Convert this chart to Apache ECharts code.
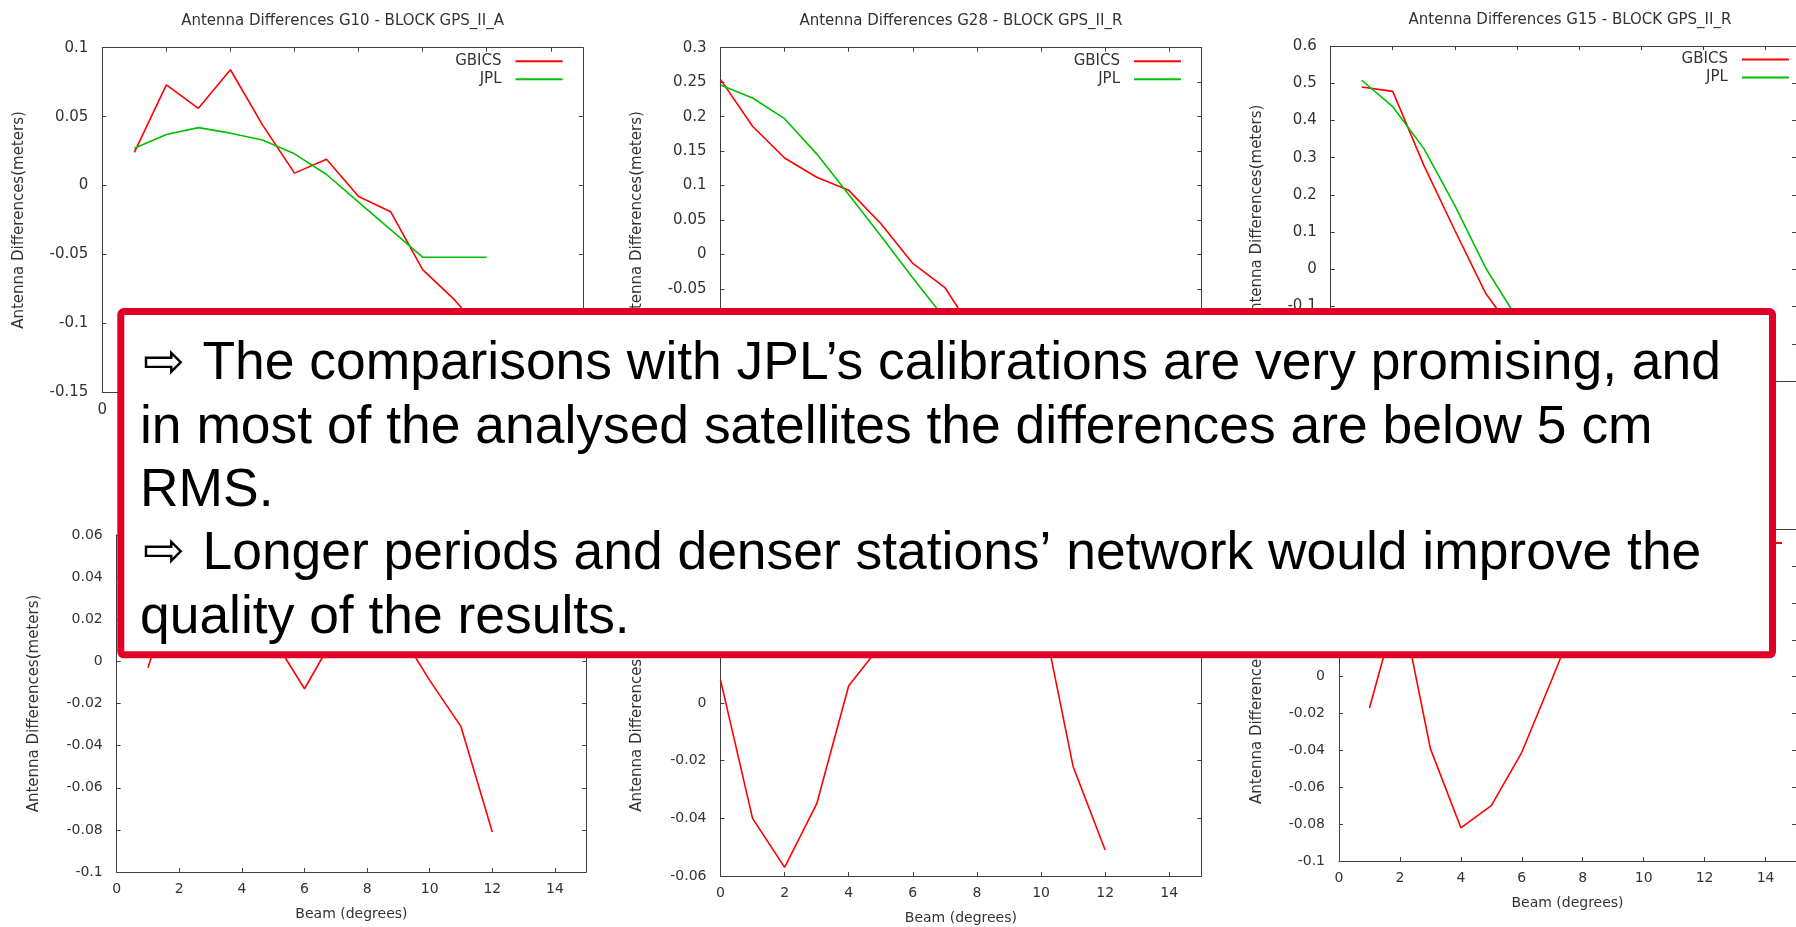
<!DOCTYPE html>
<html>
<head>
<meta charset="utf-8">
<script src="https://cdn.jsdelivr.net/npm/echarts@6/dist/echarts.min.js"></script>
<style>
  html, body { margin: 0; padding: 0; background: #fff; }
  #chart { width: 1796px; height: 927px; }
</style>
</head>
<body>
<div id="chart"></div>
<script>
// Antenna differences (meters) against beam angle (degrees), GBICS solution vs JPL calibration
const g10Beam  = [1, 2, 3, 4, 5, 6, 7, 8, 9, 10, 11, 12];
const g10Gbics = [0.024, 0.073, 0.056, 0.084, 0.044, 0.009, 0.019, -0.008, -0.019, -0.061, -0.083, -0.110];
const g10Jpl   = [0.027, 0.037, 0.042, 0.038, 0.033, 0.023, 0.008, -0.012, -0.032, -0.052, -0.052, -0.052];

const g28Beam  = [0, 1, 2, 3, 4, 5, 6, 7, 8, 9, 10, 11, 12];
const g28Gbics = [0.254, 0.186, 0.140, 0.112, 0.093, 0.045, -0.013, -0.048, -0.120, -0.140, -0.155, -0.165, -0.170];
const g28Jpl   = [0.246, 0.227, 0.197, 0.146, 0.087, 0.027, -0.034, -0.093, -0.140, -0.170, -0.185, -0.190, -0.190];

const g15Beam  = [1, 2, 3, 4, 5, 6, 7, 8, 9, 10, 11, 12];
const g15Gbics = [0.490, 0.478, 0.280, 0.105, -0.065, -0.180, -0.230, -0.250, -0.250, -0.240, -0.220, -0.200];
const g15Jpl   = [0.508, 0.437, 0.325, 0.172, 0.003, -0.130, -0.200, -0.230, -0.240, -0.240, -0.240, -0.240];

const lowerLeftBeam    = [1, 2, 3, 4, 5, 6, 7, 8, 9, 10, 11, 12];
const lowerLeftGbics   = [-0.003, 0.045, 0.050, 0.030, 0.011, -0.013, 0.013, 0.030, 0.015, -0.009, -0.031, -0.081];
const lowerMiddleBeam  = [0, 1, 2, 3, 4, 5, 6, 7, 8, 9, 10, 11, 12];
const lowerMiddleGbics = [0.008, -0.040, -0.057, -0.035, 0.006, 0.020, 0.035, 0.045, 0.050, 0.045, 0.033, -0.022, -0.051];
const lowerRightBeam   = [1, 2, 3, 4, 5, 6, 7, 8, 9, 10, 11, 12];
const lowerRightGbics  = [-0.017, 0.043, -0.039, -0.082, -0.070, -0.041, -0.001, 0.040, 0.050, 0.045, 0.035, 0.025];

// Axis ranges: [min, max, interval]
const beamRange = [0, 15, 2];
const yRanges = [
  [-0.15, 0.1, 0.05],
  [-0.2, 0.3, 0.05],
  [-0.3, 0.6, 0.1],
  [-0.1, 0.06, 0.02],
  [-0.06, 0.06, 0.02],
  [-0.1, 0.08, 0.02]
];

const titles = [
  'Antenna Differences G10 - BLOCK GPS_II_A',
  'Antenna Differences G28 - BLOCK GPS_II_R',
  'Antenna Differences G15 - BLOCK GPS_II_R'
];

const yAxisName = 'Antenna Differences(meters)';
const xAxisName = 'Beam (degrees)';

const noteLines = [
  ['⇨', 'The comparisons with JPL’s calibrations are very promising, and'],
  ['', 'in most of the analysed satellites the differences are below 5 cm'],
  ['', 'RMS.'],
  ['⇨', 'Longer periods and denser stations’ network would improve the'],
  ['', 'quality of the results.']
];

const RED = '#ff0000';
const GREEN = '#00c000';
const AXIS = '#404040';
const TEXT = '#333333';
const PLOT_FONT = '"DejaVu Sans", Verdana, sans-serif';

const panels = [
  { grid: { left: 102.3, top: 47.7, width: 480.5, height: 344.6 }, font: 15, yNameGap: 76,
    lines: [{ name: 'GBICS', beam: g10Beam, vals: g10Gbics, color: RED }, { name: 'JPL', beam: g10Beam, vals: g10Jpl, color: GREEN }] },
  { grid: { left: 720.5, top: 47.7, width: 480.8, height: 344.6 }, font: 15, yNameGap: 76,
    lines: [{ name: 'GBICS', beam: g28Beam, vals: g28Gbics, color: RED }, { name: 'JPL', beam: g28Beam, vals: g28Jpl, color: GREEN }] },
  { grid: { left: 1330.7, top: 46, width: 478.5, height: 335 }, font: 15, yNameGap: 66,
    lines: [{ name: 'GBICS', beam: g15Beam, vals: g15Gbics, color: RED }, { name: 'JPL', beam: g15Beam, vals: g15Jpl, color: GREEN }] },
  { grid: { left: 116.7, top: 535, width: 469.5, height: 337 }, font: 14, yNameGap: 75,
    lines: [{ name: 'GBICS', beam: lowerLeftBeam, vals: lowerLeftGbics, color: RED }] },
  { grid: { left: 720.5, top: 530, width: 480.8, height: 346 }, font: 14, yNameGap: 76,
    lines: [{ name: 'GBICS', beam: lowerMiddleBeam, vals: lowerMiddleGbics, color: RED }] },
  { grid: { left: 1339, top: 529.3, width: 463.3, height: 331.7 }, font: 14, yNameGap: 74,
    lines: [{ name: 'GBICS', beam: lowerRightBeam, vals: lowerRightGbics, color: RED }] }
];

const chartWidth = 1796;
const grid = [], xAxis = [], yAxis = [], series = [], legend = [], graphics = [];

panels.forEach((p, i) => {
  const [yMin, yMax, yStep] = yRanges[i];
  grid.push(Object.assign({ show: false, containLabel: false }, p.grid));

  const lineStyle = { color: AXIS, width: 1 };
  const tick = { show: true, inside: true, length: 4, lineStyle: lineStyle };
  const label = { fontSize: p.font, color: TEXT, fontFamily: PLOT_FONT };

  // bottom and mirrored top x axes
  xAxis.push({
    type: 'value', gridIndex: i, position: 'bottom',
    min: beamRange[0], max: beamRange[1], interval: beamRange[2],
    axisLine: { show: true, onZero: false, lineStyle: lineStyle },
    axisTick: tick, splitLine: { show: false },
    axisLabel: Object.assign({ margin: 10, showMaxLabel: false }, label),
    name: xAxisName, nameLocation: 'middle', nameGap: 35,
    nameTextStyle: { fontSize: p.font, color: TEXT, fontFamily: PLOT_FONT }
  });
  xAxis.push({
    type: 'value', gridIndex: i, position: 'top',
    min: beamRange[0], max: beamRange[1], interval: beamRange[2],
    axisLine: { show: true, onZero: false, lineStyle: lineStyle },
    axisTick: tick, splitLine: { show: false }, axisLabel: { show: false }
  });

  // left and mirrored right y axes
  yAxis.push({
    type: 'value', gridIndex: i, position: 'left',
    min: yMin, max: yMax, interval: yStep,
    axisLine: { show: true, onZero: false, lineStyle: lineStyle },
    axisTick: tick, splitLine: { show: false },
    axisLabel: Object.assign({ margin: 14 }, label),
    name: yAxisName, nameLocation: 'middle', nameGap: p.yNameGap,
    nameTextStyle: { fontSize: 15, color: TEXT, fontFamily: PLOT_FONT }
  });
  yAxis.push({
    type: 'value', gridIndex: i, position: 'right',
    min: yMin, max: yMax, interval: yStep,
    axisLine: { show: true, onZero: false, lineStyle: lineStyle },
    axisTick: tick, splitLine: { show: false }, axisLabel: { show: false }
  });

  p.lines.forEach(l => {
    series.push({
      type: 'line', name: l.name,
      xAxisIndex: 2 * i, yAxisIndex: 2 * i,
      data: l.beam.map((b, k) => [b, l.vals[k]]),
      symbol: 'none', showSymbol: false, clip: true,
      lineStyle: { color: l.color, width: 1.6 },
      itemStyle: { color: l.color },
      silent: true, animation: false
    });
  });

  // key in the upper right corner: label on the left, short line sample on the right
  const plotRight = p.grid.left + p.grid.width;
  legend.push({
    orient: 'vertical', align: 'right',
    right: chartWidth - (plotRight - 20.3),
    top: p.grid.top + 11.6 - 6,
    icon: 'rect', itemWidth: 47, itemHeight: 2, itemGap: 2, padding: 0,
    selectedMode: false,
    data: p.lines.map(l => l.name),
    textStyle: { fontSize: p.font, lineHeight: 16, color: TEXT, fontFamily: PLOT_FONT, padding: [0, 9, 0, 0] }
  });

  if (titles[i]) {
    graphics.push({
      type: 'text', x: p.grid.left + p.grid.width / 2, y: p.grid.top - 26.2, z: 10,
      style: { text: titles[i], align: 'center', verticalAlign: 'middle',
               fontSize: 15, fontFamily: PLOT_FONT, fill: TEXT }
    });
  }
});

// Summary note box laid over the plots
graphics.push({
  type: 'rect', z: 100,
  shape: { x: 120.8, y: 311.5, width: 1651.7, height: 343.3, r: 3 },
  style: { fill: '#ffffff', stroke: '#e00026', lineWidth: 7 }
});
const noteTop = 364.6, noteStep = 63.3;
noteLines.forEach((ln, k) => {
  const y = noteTop + k * noteStep;
  if (ln[0]) {
    graphics.push({
      type: 'text', z: 101, x: 143, y: y,
      style: { text: ln[0], fontSize: 50, fontFamily: '"DejaVu Sans", sans-serif',
               fill: '#000', verticalAlign: 'middle', align: 'left' }
    });
  }
  graphics.push({
    type: 'text', z: 101, x: ln[0] ? 202.5 : 140, y: y,
    style: { text: ln[1], fontSize: 53.4, fontFamily: '"Liberation Sans", Arial, sans-serif',
             fill: '#000', verticalAlign: 'middle', align: 'left' }
  });
});

const chart = echarts.init(document.getElementById('chart'), null, { renderer: 'canvas' });
chart.setOption({
  backgroundColor: '#ffffff',
  animation: false,
  grid: grid,
  xAxis: xAxis,
  yAxis: yAxis,
  legend: legend,
  series: series,
  graphic: { elements: graphics }
});
</script>
</body>
</html>
